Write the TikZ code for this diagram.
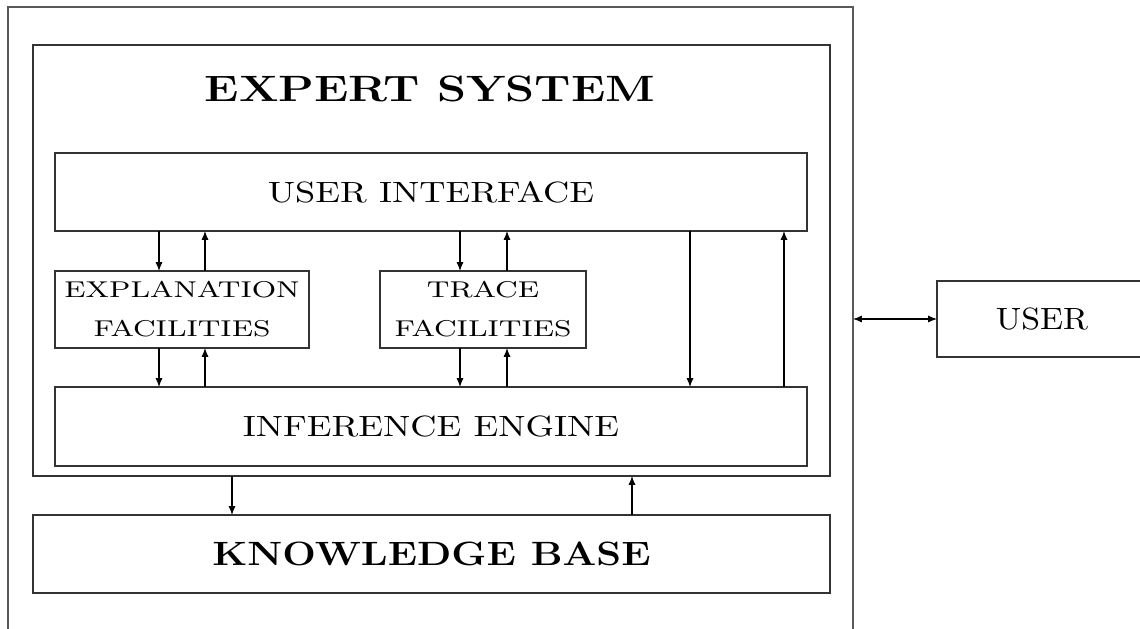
\documentclass[tikz,border=0pt]{standalone}
\usepackage{graphicx}
\usetikzlibrary{arrows.meta}
\newcommand{\wide}[2]{\scalebox{#1}[1]{#2}}
\tikzset{
  block/.style={draw=black!80, line width=0.6pt, inner sep=0pt, outer sep=0pt},
  small/.style={font=\fontsize{7.8}{13.3}\selectfont, align=center},
}
\begin{document}
\begin{tikzpicture}[x=0.012cm, y=-0.012cm, >={Latex[length=3pt,width=2.4pt]}]
\clip (0,0) rectangle (1140,629);
\node[block, draw=black!65, minimum width=845*0.012cm, minimum height=653*0.012cm] (outer) at (430.5,333.5) {};
\node[block, minimum width=797*0.012cm, minimum height=431*0.012cm] (es) at (431.5,260.5) {};
\node[anchor=base, font=\fontsize{12.5}{15}\selectfont\bfseries] (title) at (430,102) {\wide{1.27}{EXPERT SYSTEM}};

\node[block, minimum width=752*0.012cm, minimum height=78*0.012cm] (ui) at (431,192) {\wide{1.24}{USER INTERFACE}};
\node[block, small, minimum width=254*0.012cm, minimum height=77*0.012cm] (expl) at (182,309.5) {\wide{1.29}{EXPLANATION}\\\wide{1.29}{FACILITIES}};
\node[block, small, minimum width=206*0.012cm, minimum height=77*0.012cm] (trace) at (483,309.5) {\wide{1.29}{TRACE}\\\wide{1.29}{FACILITIES}};
\node[block, minimum width=752*0.012cm, minimum height=79*0.012cm] (ie) at (431,426.5) {\wide{1.24}{INFERENCE ENGINE}};
\node[block, font=\fontsize{11.5}{14}\selectfont\bfseries, minimum width=797*0.012cm, minimum height=78*0.012cm] (kb) at (431.5,554) {\wide{1.18}{KNOWLEDGE BASE}};
\node[block, font=\fontsize{10.5}{13}\selectfont, minimum width=210*0.012cm, minimum height=76*0.012cm] (user) at (1042,319) {\wide{1.1}{USER}};

\foreach \n/\x in {a/159, b/205, c/460, d/507, e/690, f/784, g/232, h/632}
  \coordinate (lane\n) at (\x,0);

\draw[->] (ui.south -| lanea) -- (expl.north -| lanea);
\draw[->] (expl.north -| laneb) -- (ui.south -| laneb);
\draw[->] (expl.south -| lanea) -- (ie.north -| lanea);
\draw[->] (ie.north -| laneb) -- (expl.south -| laneb);
\draw[->] (ui.south -| lanec) -- (trace.north -| lanec);
\draw[->] (trace.north -| laned) -- (ui.south -| laned);
\draw[->] (trace.south -| lanec) -- (ie.north -| lanec);
\draw[->] (ie.north -| laned) -- (trace.south -| laned);
\draw[->] (ui.south -| lanee) -- (ie.north -| lanee);
\draw[->] (ie.north -| lanef) -- (ui.south -| lanef);
\draw[->] (es.south -| laneg) -- (kb.north -| laneg);
\draw[->] (kb.north -| laneh) -- (es.south -| laneh);
\draw[<->] (user.west -| outer.east) -- (user.west);

\end{tikzpicture}
\end{document}
